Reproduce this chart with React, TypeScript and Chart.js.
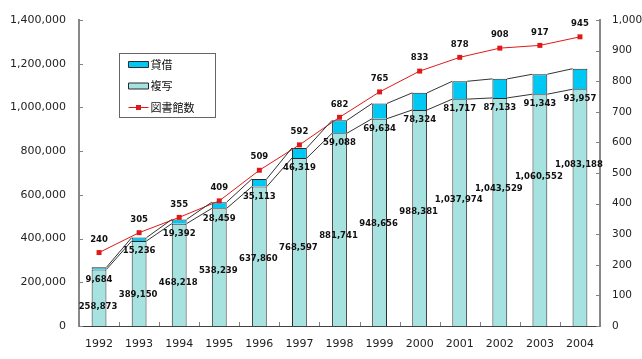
import React, { useEffect, useRef } from "react";
import { Chart, registerables } from "chart.js";

Chart.register(...registerables);

// ---- data ----
const years = ["1992", "1993", "1994", "1995", "1996", "1997", "1998", "1999", "2000", "2001", "2002", "2003", "2004"];
const copyValues = [258873, 389150, 468218, 538239, 637860, 768597, 881741, 948656, 988381, 1037974, 1043529, 1060552, 1083188];
const loanValues = [9684, 15236, 19392, 28459, 35113, 46319, 59088, 69634, 78324, 81717, 87133, 91343, 93957];
const libraryCounts = [240, 305, 355, 409, 509, 592, 682, 765, 833, 878, 908, 917, 945];
const leftAxis = { min: 0, max: 1400000, step: 200000 };
const rightAxis = { min: 0, max: 1000, step: 100 };
const labelCopy = "複写";
const labelLoan = "貸借";
const labelLibs = "図書館数";

const COPY_COLOR = "#a6e2e0";
const LOAN_COLOR = "#00c8f4";
const LINE_COLOR = "#e01818";
const BAR_BORDER = "#2a2a2a";
const LABEL_FONT = "bold 8.5px 'DejaVu Sans'";

const fmt = (v: number) => Number(v).toLocaleString("en-US");

const seriesLinesPlugin = {
  id: "seriesLines",
  afterDatasetsDraw(chart: any) {
    const ctx = chart.ctx;
    ctx.save();
    ctx.strokeStyle = "#333";
    ctx.lineWidth = 1;
    [0, 1].forEach((di) => {
      const els = chart.getDatasetMeta(di).data;
      for (let i = 0; i < els.length - 1; i++) {
        const a = els[i];
        const b = els[i + 1];
        ctx.beginPath();
        ctx.moveTo(a.x + a.width / 2, a.y);
        ctx.lineTo(b.x - b.width / 2, b.y);
        ctx.stroke();
      }
    });
    ctx.restore();
  },
};

const insideTicksPlugin = {
  id: "insideTicks",
  afterDraw(chart: any) {
    const { ctx, chartArea } = chart;
    const y = chart.scales.y;
    const y1 = chart.scales.y1;
    ctx.save();
    ctx.strokeStyle = "#808080";
    ctx.lineWidth = 1;
    ctx.beginPath();
    y.ticks.forEach((t: any) => {
      const py = Math.round(y.getPixelForValue(t.value)) + 0.5;
      ctx.moveTo(chartArea.left, py);
      ctx.lineTo(chartArea.left + 4, py);
    });
    y1.ticks.forEach((t: any) => {
      const py = Math.round(y1.getPixelForValue(t.value)) + 0.5;
      ctx.moveTo(chartArea.right - 4, py);
      ctx.lineTo(chartArea.right, py);
    });
    const n = years.length;
    for (let i = 0; i <= n; i++) {
      const px = Math.round(chartArea.left + (i * (chartArea.right - chartArea.left)) / n) + 0.5;
      ctx.moveTo(px, chartArea.bottom);
      ctx.lineTo(px, chartArea.bottom - 4);
    }
    ctx.stroke();
    ctx.restore();
  },
};

const valueLabelsPlugin = {
  id: "valueLabels",
  afterDraw(chart: any) {
    const ctx = chart.ctx;
    const yScale = chart.scales.y;
    ctx.save();
    ctx.font = LABEL_FONT;
    ctx.fillStyle = "#111";
    ctx.textAlign = "center";
    ctx.textBaseline = "middle";
    const copyMeta = chart.getDatasetMeta(0).data;
    const loanMeta = chart.getDatasetMeta(1).data;
    const lineMeta = chart.getDatasetMeta(2).data;
    copyMeta.forEach((el: any, i: number) => {
      const anchor = yScale.getPixelForValue(90000 + i * 54000);
      ctx.fillText(fmt(copyValues[i]), el.x - 1, anchor);
    });
    loanMeta.forEach((el: any, i: number) => {
      ctx.fillText(fmt(loanValues[i]), el.x, el.base + 10);
    });
    lineMeta.forEach((p: any, i: number) => {
      ctx.fillText(fmt(libraryCounts[i]), p.x, p.y - 13);
    });
    ctx.restore();
  },
};

const boxLegendPlugin = {
  id: "boxLegend",
  afterDraw(chart: any) {
    const { ctx, chartArea } = chart;
    const x0 = Math.round(chartArea.left + 40) + 0.5;
    const y0 = Math.round(chartArea.top + 33) + 0.5;
    const w = 96;
    const h = 64;
    ctx.save();
    ctx.fillStyle = "#fff";
    ctx.fillRect(x0, y0, w, h);
    ctx.strokeStyle = "#666";
    ctx.lineWidth = 1;
    ctx.strokeRect(x0, y0, w, h);
    const items = [
      { text: labelLoan, color: LOAN_COLOR, type: "bar" },
      { text: labelCopy, color: COPY_COLOR, type: "bar" },
      { text: labelLibs, color: LINE_COLOR, type: "line" },
    ];
    items.forEach((it, i) => {
      const cy = y0 + 11 + i * 21.5;
      const sx = x0 + 9;
      if (it.type === "bar") {
        ctx.fillStyle = it.color;
        ctx.strokeStyle = BAR_BORDER;
        ctx.beginPath();
        ctx.rect(sx, cy - 3, 20, 6);
        ctx.fill();
        ctx.stroke();
      } else {
        ctx.strokeStyle = it.color;
        ctx.beginPath();
        ctx.moveTo(sx, cy);
        ctx.lineTo(sx + 20, cy);
        ctx.stroke();
        ctx.fillStyle = it.color;
        ctx.fillRect(sx + 7.5, cy - 2.5, 5, 5);
      }
      ctx.fillStyle = "#111";
      ctx.font = "11px 'Noto Sans CJK JP'";
      ctx.textAlign = "left";
      ctx.textBaseline = "middle";
      ctx.fillText(it.text, sx + 22, cy);
    });
    ctx.restore();
  },
};

export default function App() {
  const ref = useRef<HTMLCanvasElement | null>(null);
  useEffect(() => {
    if (!ref.current) return;
    Chart.defaults.font.family = "'DejaVu Sans'";
    const chart = new Chart(ref.current, {
      type: "bar",
      data: {
        labels: years,
        datasets: [
          {
            type: "bar",
            label: labelCopy,
            data: copyValues,
            backgroundColor: COPY_COLOR,
            borderColor: BAR_BORDER,
            borderWidth: 1,
            yAxisID: "y",
            stack: "s",
            order: 1,
            barPercentage: 0.37,
            categoryPercentage: 1,
          },
          {
            type: "bar",
            label: labelLoan,
            data: loanValues,
            backgroundColor: LOAN_COLOR,
            borderColor: BAR_BORDER,
            borderWidth: 1,
            yAxisID: "y",
            stack: "s",
            order: 1,
            barPercentage: 0.37,
            categoryPercentage: 1,
          },
          {
            type: "line",
            label: labelLibs,
            data: libraryCounts,
            borderColor: LINE_COLOR,
            borderWidth: 1,
            pointStyle: "rect",
            pointRadius: 3.5,
            pointBackgroundColor: LINE_COLOR,
            pointBorderColor: LINE_COLOR,
            pointBorderWidth: 0,
            yAxisID: "y1",
            order: 0,
            tension: 0,
          } as any,
        ],
      },
      options: {
        responsive: false,
        animation: false,
        layout: { padding: { top: 20, left: 0, right: 0, bottom: 0 } },
        plugins: { legend: { display: false }, tooltip: { enabled: false } },
        scales: {
          x: {
            stacked: true,
            grid: { display: false },
            border: { color: "#404040", width: 1 },
            ticks: { color: "#222", font: { size: 11 }, padding: 4, maxRotation: 0 },
            afterFit(s: any) {
              s.height = 33;
            },
          },
          y: {
            stacked: true,
            position: "left",
            min: leftAxis.min,
            max: leftAxis.max,
            grid: { display: false },
            border: { color: "#888", width: 2 },
            ticks: {
              stepSize: leftAxis.step,
              color: "#222",
              font: { size: 11 },
              padding: 5,
              callback: (v: any) => fmt(v),
            },
            afterFit(s: any) {
              s.width = 79;
            },
          },
          y1: {
            position: "right",
            min: rightAxis.min,
            max: rightAxis.max,
            grid: { display: false },
            border: { color: "#888", width: 2 },
            ticks: {
              stepSize: rightAxis.step,
              color: "#222",
              font: { size: 10.5 },
              padding: 4,
              callback: (v: any) => fmt(v),
            },
            afterFit(s: any) {
              s.width = 42;
            },
          },
        } as any,
      },
      plugins: [seriesLinesPlugin, insideTicksPlugin, valueLabelsPlugin, boxLegendPlugin],
    } as any);
    return () => chart.destroy();
  }, []);
  return (
    <div style={{ position: "absolute", left: 0, top: 0, width: 642, height: 359, background: "#fff" }}>
      <canvas ref={ref} width={642} height={359} />
    </div>
  );
}
